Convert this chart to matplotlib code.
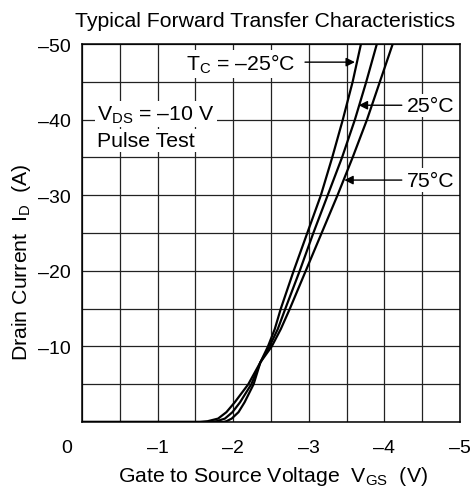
import numpy as np
import matplotlib
matplotlib.use("Agg")
import matplotlib.pyplot as plt

plt.rcParams['font.family'] = ['Liberation Sans', 'DejaVu Sans']
plt.rcParams['mathtext.fontset'] = 'custom'
plt.rcParams['mathtext.rm'] = 'Liberation Sans'

# Drain current points (A)
id_points = [0, -0.1, -0.45, -1.3, -2.6, -5, -7.9, -10, -12.3, -15, -20, -25, -30, -35, -40, -45, -50]

# Gate-source voltage (V) for each case temperature at those currents
vgs_m25 = [-1.87, -1.91, -1.98, -2.07, -2.15, -2.27, -2.36, -2.46, -2.55, -2.63, -2.80, -2.98, -3.16, -3.31, -3.45, -3.58, -3.69]
vgs_25 = [-1.69, -1.78, -1.89, -1.99, -2.09, -2.24, -2.36, -2.48, -2.59, -2.69, -2.88, -3.06, -3.25, -3.44, -3.61, -3.76, -3.90]
vgs_75 = [-1.56, -1.66, -1.80, -1.91, -2.02, -2.20, -2.36, -2.51, -2.63, -2.75, -2.96, -3.17, -3.38, -3.58, -3.77, -3.94, -4.11]

x_ticks = [-1, -2, -3, -4, -5]
x_labels = ['\u20131', '\u20132', '\u20133', '\u20134', '\u20135']
y_ticks = [-10, -20, -30, -40, -50]
y_labels = ['\u201310', '\u201320', '\u201330', '\u201340', '\u201350']

fig = plt.figure(figsize=(4.75, 4.89), dpi=100)
ax = fig.add_axes([82 / 475, 66 / 489, 378 / 475, 378 / 489])

for vgs in (vgs_m25, vgs_25, vgs_75):
    ax.plot([0] + vgs, [0] + id_points, color='black', lw=1.6, solid_joinstyle='round', zorder=3)

ax.set_xlim(0, -5)
ax.set_ylim(0, -50)
ax.set_xticks(x_ticks)
ax.set_xticklabels(x_labels, fontsize=14)
ax.set_xticks(np.arange(0, -5.01, -0.5), minor=True)
ax.set_yticks(y_ticks)
ax.set_yticklabels(y_labels, fontsize=14)
ax.set_yticks(np.arange(0, -50.01, -5), minor=True)
ax.tick_params(which='both', length=0)
ax.tick_params(axis='x', pad=12)
ax.tick_params(axis='y', pad=8)
ax.grid(which='both', color='#222222', lw=0.9, zorder=1)
for sp in ax.spines.values():
    sp.set_linewidth(1.1)

# corner zero label, shared by both axes
ax.text(-0.04, -0.045, '0', transform=ax.transAxes, fontsize=14, ha='center', va='top')

fs = 15.3
ax.set_title('Typical Forward Transfer Characteristics', fontsize=fs, pad=13, x=0.485)
ax.set_xlabel('Gate to Source Voltage  V$_\\mathregular{GS}$  (V)', fontsize=fs)
ax.xaxis.set_label_coords(0.504, -0.11)
ax.set_ylabel('Drain Current  I$_\\mathregular{D}$  (A)', fontsize=fs)
ax.yaxis.set_label_coords(-0.13, 0.426)

box = dict(facecolor='white', edgecolor='none', pad=1.5)
ax.text(-0.2, -40, 'V$_\\mathregular{DS}$ = \u201310 V', fontsize=fs, ha='left', va='baseline', bbox=box, zorder=4)
ax.text(-0.2, -36.5, 'Pulse Test', fontsize=fs, ha='left', va='baseline', bbox=box, zorder=4)
ax.text(-2.10, -47.4, 'T$_\\mathregular{C}$ = \u201325\u00b0C', fontsize=fs, ha='center', va='center', bbox=box, zorder=4)
ax.text(-4.30, -41.9, '25\u00b0C', fontsize=fs, ha='left', va='center', bbox=box, zorder=4)
ax.text(-4.30, -32.0, '75\u00b0C', fontsize=fs, ha='left', va='center', bbox=box, zorder=4)

arrow = dict(arrowstyle='-|>', color='black', lw=1.0, mutation_scale=13, shrinkA=0, shrinkB=0)
ax.annotate('', xy=(-3.61, -47.6), xytext=(-2.95, -47.6), arrowprops=arrow, zorder=5)
ax.annotate('', xy=(-3.66, -41.9), xytext=(-4.23, -41.9), arrowprops=arrow, zorder=5)
ax.annotate('', xy=(-3.47, -32.0), xytext=(-4.23, -32.0), arrowprops=arrow, zorder=5)

fig.savefig('out.png', dpi=100)
